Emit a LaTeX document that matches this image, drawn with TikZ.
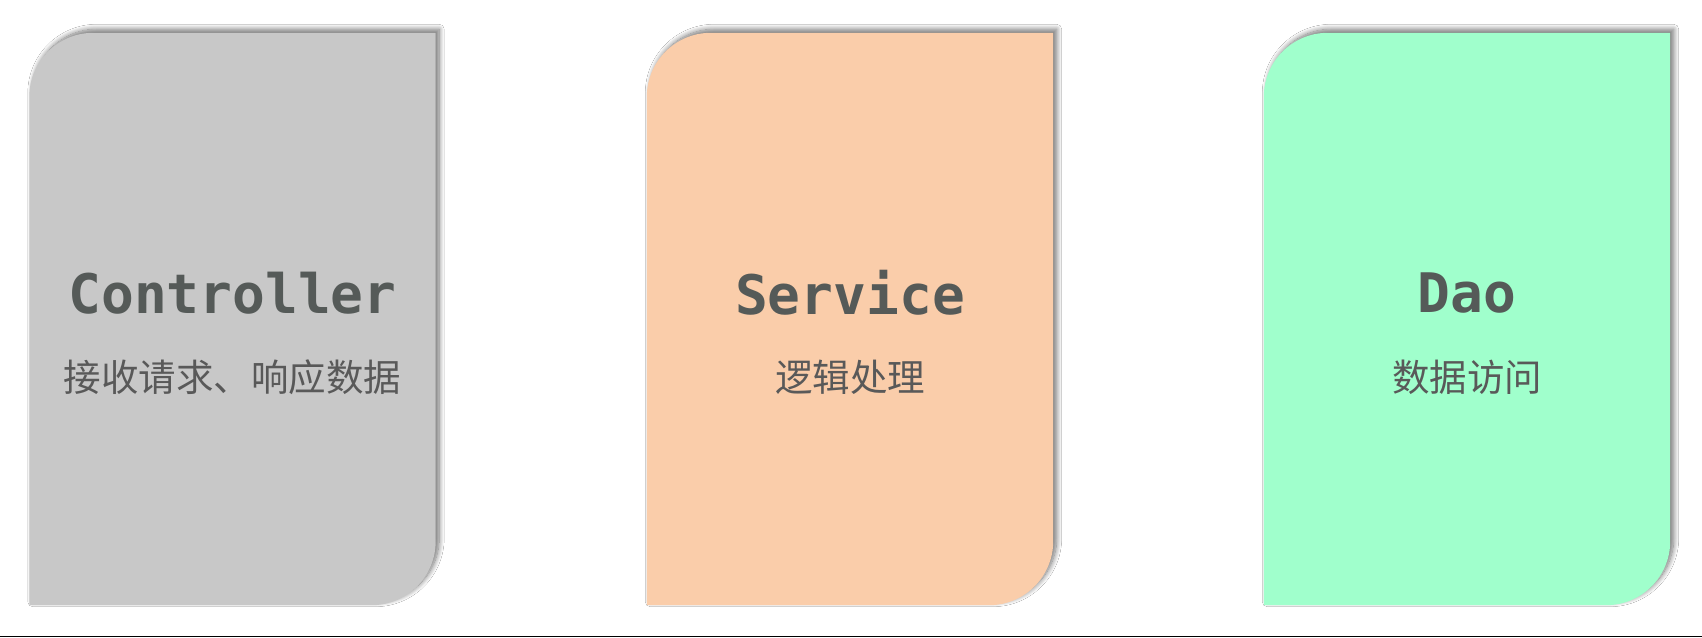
\documentclass[tikz,border=0pt]{standalone}
\usepackage{fontspec}
\setmonofont{DejaVu Sans Mono}
\newfontfamily\cjk{Noto Sans CJK SC}
\usetikzlibrary{shadows.blur}
\definecolor{cardgray}{HTML}{C8C8C8}
\definecolor{cardpeach}{HTML}{FACDAA}
\definecolor{cardgreen}{HTML}{A0FFCC}
\definecolor{titletext}{HTML}{555A58}
\definecolor{subtext}{HTML}{595959}
\definecolor{baseline}{HTML}{7A7A7A}
\tikzset{
  cardframe/.style={rectangle, minimum width=406pt, minimum height=572pt, inner sep=0pt, draw=none},
  cardfill/.style={blur shadow={shadow xshift=3.5pt, shadow yshift=3.5pt, shadow blur radius=5pt, shadow blur steps=14, shadow opacity=55}},
  cardtitle/.style={font=\ttfamily\bfseries\fontsize{54.5}{62}\selectfont, text=titletext, inner sep=0pt},
  cardsub/.style={font=\cjk\fontsize{37.5}{44}\selectfont, text=subtext, inner sep=0pt}
}
\newcommand\cardpath[2]{%
  \fill[#2, cardfill] (#1.south west) -- ([yshift=-64pt]#1.north west)
    arc[start angle=180, end angle=90, radius=64pt] -- (#1.north east)
    -- ([yshift=64pt]#1.south east)
    arc[start angle=0, end angle=-90, radius=64pt] -- cycle;}
\begin{document}
\begin{tikzpicture}[x=1pt, y=1pt]
\useasboundingbox[fill=white] (0,0) rectangle (1702,637);
\node[cardframe] (ctrl) at (232.5,318) {};
\node[cardframe] (serv) at (850,318) {};
\node[cardframe] (dao) at (1467,318) {};
\cardpath{ctrl}{cardgray}
\cardpath{serv}{cardpeach}
\cardpath{dao}{cardgreen}
\node[cardtitle] (ctrlt) at (232.5,344) {Controller};
\node[cardsub] (ctrls) at (232.5,260) {接收请求、响应数据};
\node[cardtitle] (servt) at (850,344) {Service};
\node[cardsub] (servs) at (850,260) {逻辑处理};
\node[cardtitle] (daot) at (1467,344) {Dao};
\node[cardsub] (daos) at (1467,260) {数据访问};
\coordinate (lineL) at (0,0.6);
\coordinate (lineR) at (1702,0.6);
\draw[baseline, line width=1.2pt] (lineL) -- (lineR);
\end{tikzpicture}
\end{document}
